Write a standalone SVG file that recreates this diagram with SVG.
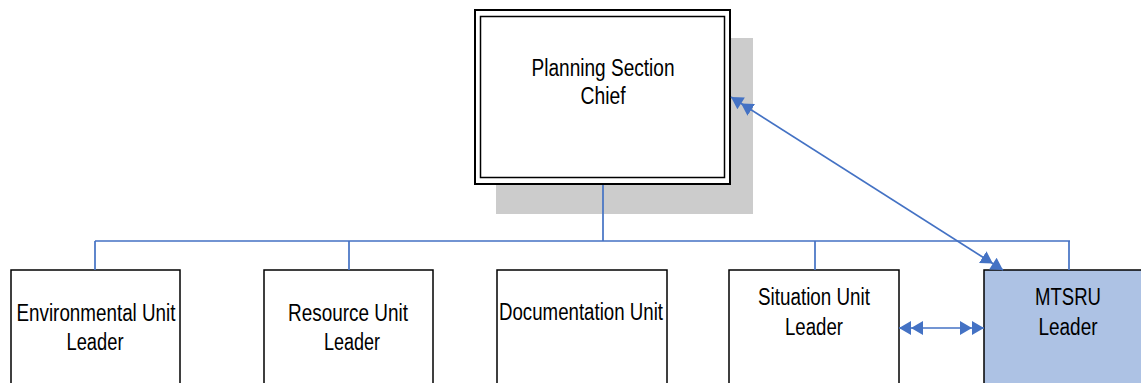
<svg xmlns="http://www.w3.org/2000/svg" width="1141" height="383" viewBox="0 0 1141 383">
<style>
.box{fill:#fff;stroke:#000;stroke-width:1.5}
.t{font-family:"Liberation Sans",Arial,sans-serif;font-size:23px;fill:#000;text-anchor:middle}
.conn{fill:none;stroke:#4472c4;stroke-width:1.7}
</style>
<defs>
<marker id="dbl" markerUnits="userSpaceOnUse" viewBox="0 0 24 14" refX="24" refY="7" markerWidth="24" markerHeight="14" orient="auto-start-reverse">
<path d="M0,0 L12,7 L0,14 Z M12,0 L24,7 L12,14 Z" fill="#4472c4"/>
</marker>
</defs>
<rect x="0" y="0" width="1141" height="383" fill="#fff"/>
<g id="planning">
<rect x="496" y="38" width="257" height="176" fill="#cccccc"/>
<rect x="475" y="10" width="255" height="174" fill="#fff" stroke="#000" stroke-width="2"/>
<rect x="480.5" y="16.5" width="244" height="161" fill="none" stroke="#000" stroke-width="1.5"/>
<text class="t" x="603" y="76" textLength="143" lengthAdjust="spacingAndGlyphs">Planning Section</text>
<text class="t" x="603" y="104" textLength="45" lengthAdjust="spacingAndGlyphs">Chief</text>
</g>
<g id="environmental">
<rect class="box" x="11" y="270" width="169" height="130"/>
<text class="t" x="96" y="321" textLength="159" lengthAdjust="spacingAndGlyphs">Environmental Unit</text>
<text class="t" x="95" y="350" textLength="57" lengthAdjust="spacingAndGlyphs">Leader</text>
</g>
<g id="resource">
<rect class="box" x="264" y="270" width="169" height="130"/>
<text class="t" x="348" y="321" textLength="120" lengthAdjust="spacingAndGlyphs">Resource Unit</text>
<text class="t" x="352" y="350" textLength="56" lengthAdjust="spacingAndGlyphs">Leader</text>
</g>
<g id="documentation">
<rect class="box" x="497" y="270" width="170" height="130"/>
<text class="t" x="581" y="320" textLength="164" lengthAdjust="spacingAndGlyphs">Documentation Unit</text>
</g>
<g id="situation">
<rect class="box" x="729" y="270" width="170" height="130"/>
<text class="t" x="814" y="305" textLength="112" lengthAdjust="spacingAndGlyphs">Situation Unit</text>
<text class="t" x="814" y="335" textLength="58" lengthAdjust="spacingAndGlyphs">Leader</text>
</g>
<g id="mtsru">
<rect x="984" y="270" width="170" height="130" fill="#adc2e4" stroke="#000" stroke-width="1.5"/>
<text class="t" x="1068" y="305" textLength="66" lengthAdjust="spacingAndGlyphs">MTSRU</text>
<text class="t" x="1068" y="335" textLength="59" lengthAdjust="spacingAndGlyphs">Leader</text>
</g>
<g id="connectors">
<path class="conn" d="M603,185 V241 M95,241 H1070 M95,241 V270 M349,241 V270 M815,241 V270 M1069,241 V270"/>
<line class="conn" x1="1003" y1="270" x2="731" y2="97" marker-start="url(#dbl)" marker-end="url(#dbl)"/>
<line class="conn" x1="899" y1="328" x2="984" y2="328" marker-start="url(#dbl)" marker-end="url(#dbl)"/>
</g>
</svg>
